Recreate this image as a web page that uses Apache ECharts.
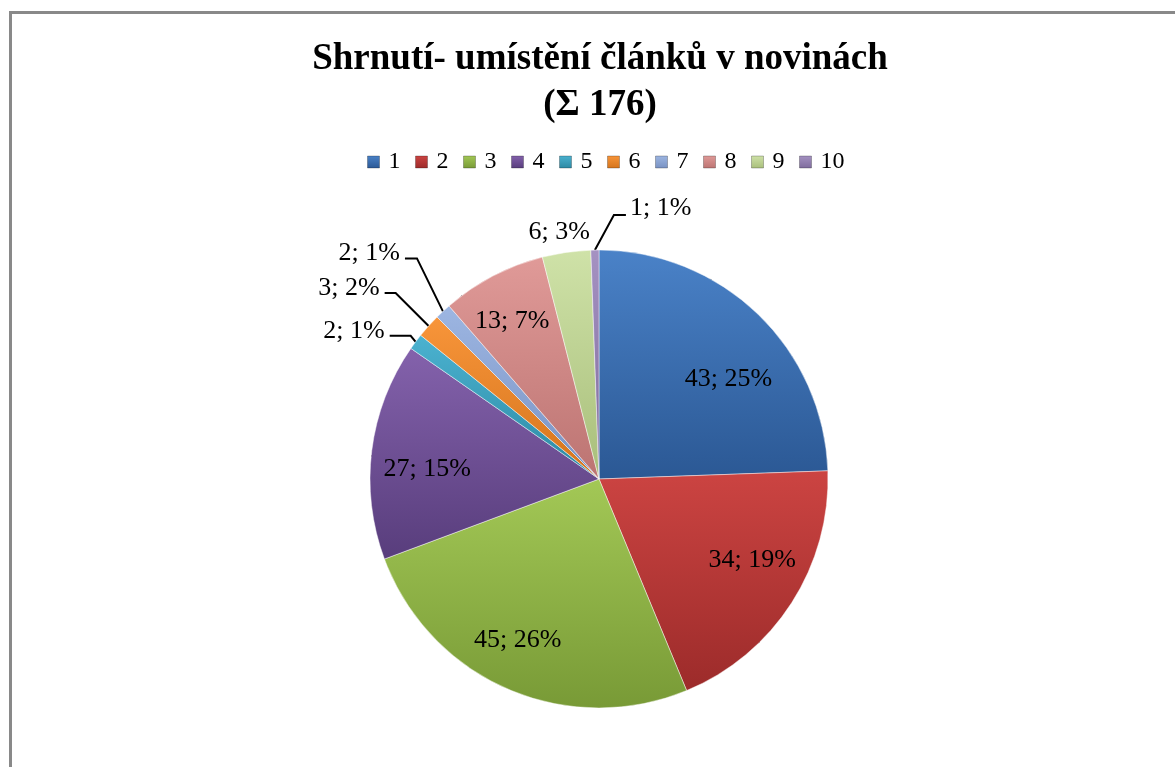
<!DOCTYPE html>
<html>
<head>
<meta charset="utf-8">
<script src="https://cdn.jsdelivr.net/npm/echarts@6/dist/echarts.min.js"></script>
<style>
  html, body { margin: 0; padding: 0; background: #fff; }
  #main { width: 1175px; height: 767px; }
</style>
</head>
<body>
<div id="main"></div>
<script>
// data
var categories = ['1', '2', '3', '4', '5', '6', '7', '8', '9', '10'];
var values = [43, 34, 45, 27, 2, 3, 2, 13, 6, 1];

// styles (top / bottom of each slice, excel-like shading)
var colorTop = ['#4A82C8', '#CC4442', '#A3C856', '#8462AC', '#4BB2D0', '#F8953A', '#9DB6E2', '#E09A98', '#CFE2A8', '#A592C2'];
var colorBottom = ['#2B5894', '#9C2B2A', '#789A36', '#583D7C', '#2C88A2', '#D4741C', '#7891C2', '#BC7472', '#A8BE7A', '#7E6B9C'];

var cx = 599, cy = 479;
var insideIdx = [0, 1, 2, 3, 7];
// small nudges of the inside labels
var insideNudge = { 0: [7, 27], 1: [5, -14], 2: [-11, 0], 3: [3, 12], 7: [-5, -2] };
// leader lines of the small slices: [run, rise, horizontal part]
var leader = { 4: [5, 6, 21], 5: [33, 33, 11], 6: [26, 53, 12], 9: [-19, 35, -12] };

var myChart = echarts.init(document.getElementById('main'));

var pieData = [];
for (var i = 0; i < values.length; i++) {
    var item = {
        name: categories[i],
        value: values[i],
        itemStyle: {
            color: {
                type: 'linear', x: 0, y: 0, x2: 0, y2: 1,
                colorStops: [
                    {offset: 0, color: colorTop[i]},
                    {offset: 1, color: colorBottom[i]}
                ]
            }
        }
    };
    if (insideIdx.indexOf(i) >= 0) {
        item.label = {position: 'inside'};
    } else {
        item.label = {position: 'outside'};
        item.labelLine = {show: i !== 8, length: 10, length2: 10};
    }
    pieData.push(item);
}

var option = {
    backgroundColor: '#ffffff',
    animation: false,
    graphic: [{
        type: 'rect',
        silent: true,
        shape: {x: 10.5, y: 12.5, width: 1300, height: 900},
        style: {fill: 'none', stroke: '#898989', lineWidth: 3}
    }],
    title: {
        text: 'Shrnutí- umístění článků v novinách\n(Σ 176)',
        left: 600,
        top: 36,
        padding: 0,
        textAlign: 'center',
        textStyle: {
            fontFamily: 'Liberation Serif',
            fontWeight: 'bold',
            fontSize: 37,
            lineHeight: 46,
            color: '#000'
        }
    },
    legend: {
        data: categories,
        left: 367,
        top: 150,
        padding: 0,
        itemWidth: 12,
        itemHeight: 12,
        itemGap: 14.5,
        icon: 'rect',
        itemStyle: {borderColor: 'rgba(0,0,0,0.25)', borderWidth: 1},
        textStyle: {
            fontFamily: 'Liberation Serif',
            fontSize: 24,
            color: '#000',
            padding: [0, 0, 0, 4]
        }
    },
    series: [{
        type: 'pie',
        center: [cx, cy],
        radius: 229,
        startAngle: 90,
        clockwise: true,
        avoidLabelOverlap: false,
        percentPrecision: 0,
        data: pieData,
        itemStyle: {
            borderColor: 'rgba(255,255,255,0.45)',
            borderWidth: 1
        },
        label: {
            formatter: '{c}; {d}%',
            fontFamily: 'Liberation Serif',
            fontSize: 26,
            color: '#000',
            distanceToLabelLine: 5
        },
        labelLine: {
            lineStyle: {color: '#000', width: 2}
        },
        labelLayout: function (params) {
            var i = params.dataIndex;
            var r = params.labelRect;
            if (insideIdx.indexOf(i) >= 0) {
                var lx = r.x + r.width / 2;
                var ly = r.y + r.height / 2;
                return {
                    x: cx + (lx - cx) * 1.5 + insideNudge[i][0],
                    y: cy + (ly - cy) * 1.5 + insideNudge[i][1],
                    align: 'center',
                    verticalAlign: 'middle'
                };
            }
            if (i === 8) {
                // centred above its own slice, no leader line
                return {
                    x: params.rect.x + params.rect.width * 0.3,
                    y: params.rect.y - 17,
                    align: 'center',
                    verticalAlign: 'middle'
                };
            }
            if (leader[i] && params.labelLinePoints) {
                var p0 = params.labelLinePoints[0];
                var s = leader[i];
                var p1 = [p0[0] - s[0], p0[1] - s[1]];
                var p2 = [p1[0] - s[2], p1[1]];
                var toRight = s[2] < 0;
                return {
                    x: p2[0] + (toRight ? 4 : -5),
                    y: p2[1] - (toRight ? 7 : 5),
                    align: toRight ? 'left' : 'right',
                    verticalAlign: 'middle',
                    labelLinePoints: [p0, p1, p2]
                };
            }
            return {};
        },
        emphasis: {disabled: true}
    }]
};

myChart.setOption(option);
</script>
</body>
</html>
